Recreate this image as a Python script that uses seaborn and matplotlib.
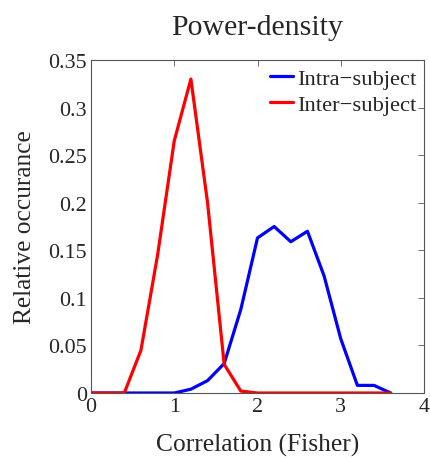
import numpy as np
import pandas as pd
import matplotlib
matplotlib.use("Agg")
import matplotlib.pyplot as plt
import seaborn as sns

x_vals = [0.0, 0.2, 0.4, 0.6, 0.8, 1.0, 1.2, 1.4, 1.6, 1.8, 2.0, 2.2, 2.4, 2.6, 2.8, 3.0, 3.2, 3.4, 3.6]
intra = [0, 0, 0, 0, 0, 0, 0.004, 0.013, 0.031, 0.088, 0.163, 0.175, 0.159, 0.170, 0.123, 0.057, 0.008, 0.008, 0.0]
inter = [0, 0, 0, 0.045, 0.145, 0.265, 0.330, 0.200, 0.030, 0.002, 0, 0, 0, 0, 0, 0, 0, 0, 0]
series_names = ["Intra\u2212subject", "Inter\u2212subject"]
colors = ["#0000ff", "#ff0000"]
x_ticks = [0, 1, 2, 3, 4]
y_ticks = [0, 0.05, 0.1, 0.15, 0.2, 0.25, 0.3, 0.35]
y_ticklabels = ["0", "0.05", "0.1", "0.15", "0.2", "0.25", "0.3", "0.35"]

df = pd.DataFrame({
    "x": x_vals * 2,
    "y": intra + inter,
    "series": [series_names[0]] * len(x_vals) + [series_names[1]] * len(x_vals),
})

sns.set_style("white")
plt.rcParams["font.family"] = ["Liberation Serif", "DejaVu Serif"]

fig = plt.figure(figsize=(4.3, 4.6), dpi=100)
ax = fig.add_axes([91/430, 1-394/460, 333/430, 333/460])
sns.lineplot(data=df, x="x", y="y", hue="series", palette=colors,
             hue_order=series_names, linewidth=2.3, ax=ax, legend=True)

ax.set_xlim(0, 4)
ax.set_ylim(0, 0.35)
ax.set_xticks(x_ticks)
ax.set_xticklabels([str(t) for t in x_ticks])
ax.set_yticks(y_ticks)
ax.set_yticklabels(y_ticklabels)
ax.tick_params(direction="in", top=True, right=True, length=4, width=0.6,
               color="#555555", labelsize=15.8, pad=3)
for s in ax.spines.values():
    s.set_color("#555555")
    s.set_linewidth(0.8)
ax.set_xlabel("Correlation (Fisher)", fontsize=18.4, labelpad=12)
ax.set_ylabel("Relative occurance", fontsize=18.3, labelpad=9)
ax.set_title("Power-density", fontsize=21.5, pad=19)
leg = ax.legend(loc="upper right", frameon=False, fontsize=16.2, handlelength=1.05,
                handletextpad=0.15, borderaxespad=0.05, labelspacing=0.25,
                borderpad=0.3)

fig.savefig("out.png", dpi=100)
